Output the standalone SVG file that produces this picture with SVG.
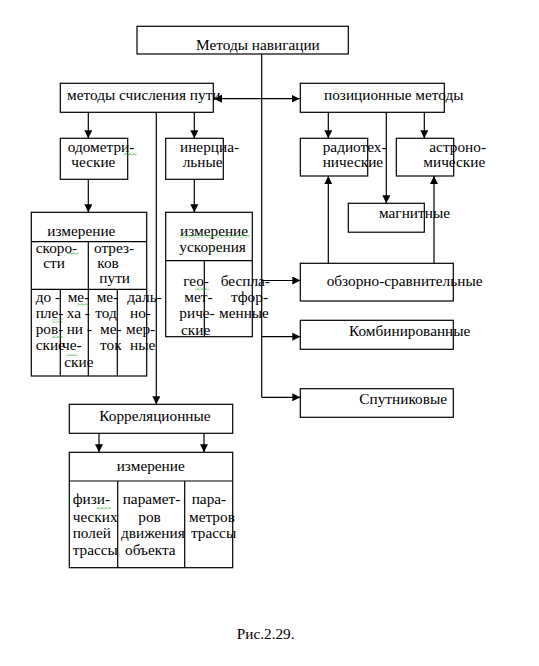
<svg xmlns="http://www.w3.org/2000/svg" width="539" height="666" viewBox="0 0 539 666">
<style>
rect.b{fill:none;stroke:#000;stroke-width:1.2}
.c{stroke:#000;stroke-width:1.2;fill:none}
.a{marker-end:url(#ah)}
.w{fill:url(#wave)}
</style>
<defs>
<marker id="ah" viewBox="0 0 10 10" refX="10" refY="5" markerWidth="8" markerHeight="8" markerUnits="userSpaceOnUse" orient="auto-start-reverse"><path d="M0,0 L10,5 L0,10 z" fill="#000"/></marker>
<pattern id="wave" width="4" height="3" patternUnits="userSpaceOnUse"><polyline points="0,2.5 2,0.5 4,2.5" fill="none" stroke="#1a9a1a" stroke-width="0.8"/></pattern>
</defs>
<rect width="539" height="666" fill="#fff"/>

<g id="connectors">
<path class="c" d="M261.7,54 V397.3"/>
<path class="c" d="M214,98.7 H299.5" marker-start="url(#ah)" marker-end="url(#ah)"/>
<path class="c a" d="M88.3,112.3 V138.3"/>
<path class="c a" d="M194.3,112.3 V138.3"/>
<path class="c a" d="M156.3,112.3 V404.3"/>
<path class="c a" d="M88.3,179.3 V212.3"/>
<path class="c a" d="M194.3,179.3 V212.3"/>
<path class="c a" d="M328.3,112.3 V138.3"/>
<path class="c a" d="M424.3,112.3 V138.3"/>
<path class="c a" d="M386.3,112.3 V203.3"/>
<path class="c a" d="M328.3,263.3 V176"/>
<path class="c a" d="M434,263.3 V176"/>
<path class="c a" d="M261.7,280.5 H300.3"/>
<path class="c a" d="M261.7,336.7 H300.3"/>
<path class="c a" d="M261.7,397.3 H300.3"/>
<path class="c a" d="M99,433.3 V452.3"/>
<path class="c a" d="M204,433.3 V452.3"/>
</g>

<g font-family="'Liberation Serif', Tinos, 'Times New Roman', 'DejaVu Serif', serif" font-size="15.3" fill="#000">
<g id="n-root">
<rect class="b" x="137" y="26.3" width="211.3" height="27.7"/>
<text x="196" y="50">Методы навигации</text>
</g>

<g id="n-dead">
<rect class="b" x="60.3" y="83.3" width="153" height="29"/>
<text x="67" y="100">методы счисления пути</text>
</g>

<g id="n-pos">
<rect class="b" x="300.3" y="83.3" width="144" height="29"/>
<text x="324" y="100">позиционные методы</text>
</g>

<g id="n-odo">
<rect class="b" x="60.3" y="138.3" width="67.4" height="41"/>
<text x="67.7" y="152">одометри-</text>
<text x="71.3" y="167">ческие</text>
</g>

<g id="n-iner">
<rect class="b" x="165.7" y="138.3" width="57.6" height="41"/>
<text x="180" y="152">инерциа-</text>
<text x="182.7" y="167">льные</text>
</g>

<g id="n-radio">
<rect class="b" x="300.3" y="138.3" width="67.4" height="37.7"/>
<text x="322.7" y="152">радиотех-</text>
<text x="322.7" y="167">нические</text>
</g>

<g id="n-astro">
<rect class="b" x="396.3" y="138.3" width="57.4" height="37.7"/>
<text x="429.3" y="152">астроно-</text>
<text x="423.3" y="167">мические</text>
</g>

<g id="n-magn">
<rect class="b" x="348.3" y="203.3" width="76" height="28.9"/>
<text x="379" y="218">магнитные</text>
</g>

<g id="n-survey">
<rect class="b" x="300.3" y="263.3" width="153" height="37.7"/>
<text x="326.7" y="286">обзорно-сравнительные</text>
</g>

<g id="n-comb">
<rect class="b" x="300.3" y="320.3" width="153" height="29"/>
<text x="349" y="336">Комбинированные</text>
</g>

<g id="n-sat">
<rect class="b" x="300.3" y="388.7" width="153" height="28.6"/>
<text x="359.3" y="404">Спутниковые</text>
</g>

<g id="n-odo-table">
<rect class="b" x="31.3" y="212.3" width="115.4" height="163.7"/>
<path class="c" d="M31.3,241.7 H146.7 M31.3,289.3 H146.7 M88.3,241.7 V376 M60.3,289.3 V376 M117.3,289.3 V376"/>
<text x="47.3" y="235.5">измерение</text>
<text x="35.7" y="253">скоро-</text>
<text x="43.3" y="268">сти</text>
<text x="94" y="253">отрез-</text>
<text x="97.3" y="268">ков</text>
<text x="99.3" y="283">пути</text>
<text x="35.7" y="302">до -</text>
<text x="35.7" y="318">пле-</text>
<text x="35.7" y="334">ров-</text>
<text x="35.7" y="350">ские</text>
<text x="67.7" y="302">ме-</text>
<text x="66.7" y="318">ха -</text>
<text x="66.7" y="334">ни -</text>
<text x="62" y="350">че-</text>
<text x="64.3" y="367">ские</text>
<text x="96.7" y="302">ме-</text>
<text x="95.3" y="318">тод</text>
<text x="100" y="334">ме-</text>
<text x="100" y="350">ток</text>
<text x="127.3" y="302">даль-</text>
<text x="130" y="318">но-</text>
<text x="126" y="334">мер-</text>
<text x="130" y="350">ные</text>
</g>

<g id="n-iner-table">
<rect class="b" x="165.7" y="212.3" width="86.6" height="124.4"/>
<path class="c" d="M165.7,260.7 H252.3 M204.3,260.7 V336.7"/>
<text x="180" y="235.5">измерение</text>
<text x="179.3" y="252">ускорения</text>
<text x="183.3" y="286">гео-</text>
<text x="184.3" y="302">мет-</text>
<text x="179.3" y="318">риче-</text>
<text x="181" y="335">ские</text>
<text x="220.7" y="286">беспла-</text>
<text x="231" y="302">тфор-</text>
<text x="219" y="318">менные</text>
</g>

<g id="n-corr">
<rect class="b" x="69.3" y="404.3" width="163.4" height="29"/>
<text x="99.3" y="421">Корреляционные</text>
</g>

<g id="n-corr-table">
<rect class="b" x="69.3" y="452.3" width="163.4" height="115.4"/>
<path class="c" d="M69.3,481 H232.7 M117.7,481 V567.7 M184.7,481 V567.7"/>
<text x="116.7" y="471">измерение</text>
<text x="72.7" y="504">физи-</text>
<text x="72.7" y="522">ческих</text>
<text x="72.7" y="538">полей</text>
<text x="72.7" y="555">трассы</text>
<text x="122.7" y="504">парамет-</text>
<text x="138.3" y="522">ров</text>
<text x="121" y="538">движения</text>
<text x="125" y="555">объекта</text>
<text x="191.7" y="504">пара-</text>
<text x="189" y="522">метров</text>
<text x="191" y="538">трассы</text>
</g>

<text x="236.7" y="639">Рис.2.29.</text>
</g>

<g id="spell">
<rect class="w" x="123.3" y="152.5" width="13.4" height="3"/>
<rect class="w" x="66.7" y="252.3" width="11.6" height="3"/>
<rect class="w" x="77.3" y="303.3" width="11" height="3"/>
<rect class="w" x="51.7" y="319.5" width="11" height="3"/>
<rect class="w" x="51.7" y="335.5" width="11" height="3"/>
<rect class="w" x="66.7" y="353.3" width="10.6" height="3"/>
<rect class="w" x="180" y="235" width="70" height="3"/>
<rect class="w" x="195" y="287.3" width="14.3" height="3"/>
<rect class="w" x="96.7" y="506.7" width="14" height="3"/>
</g>
</svg>
